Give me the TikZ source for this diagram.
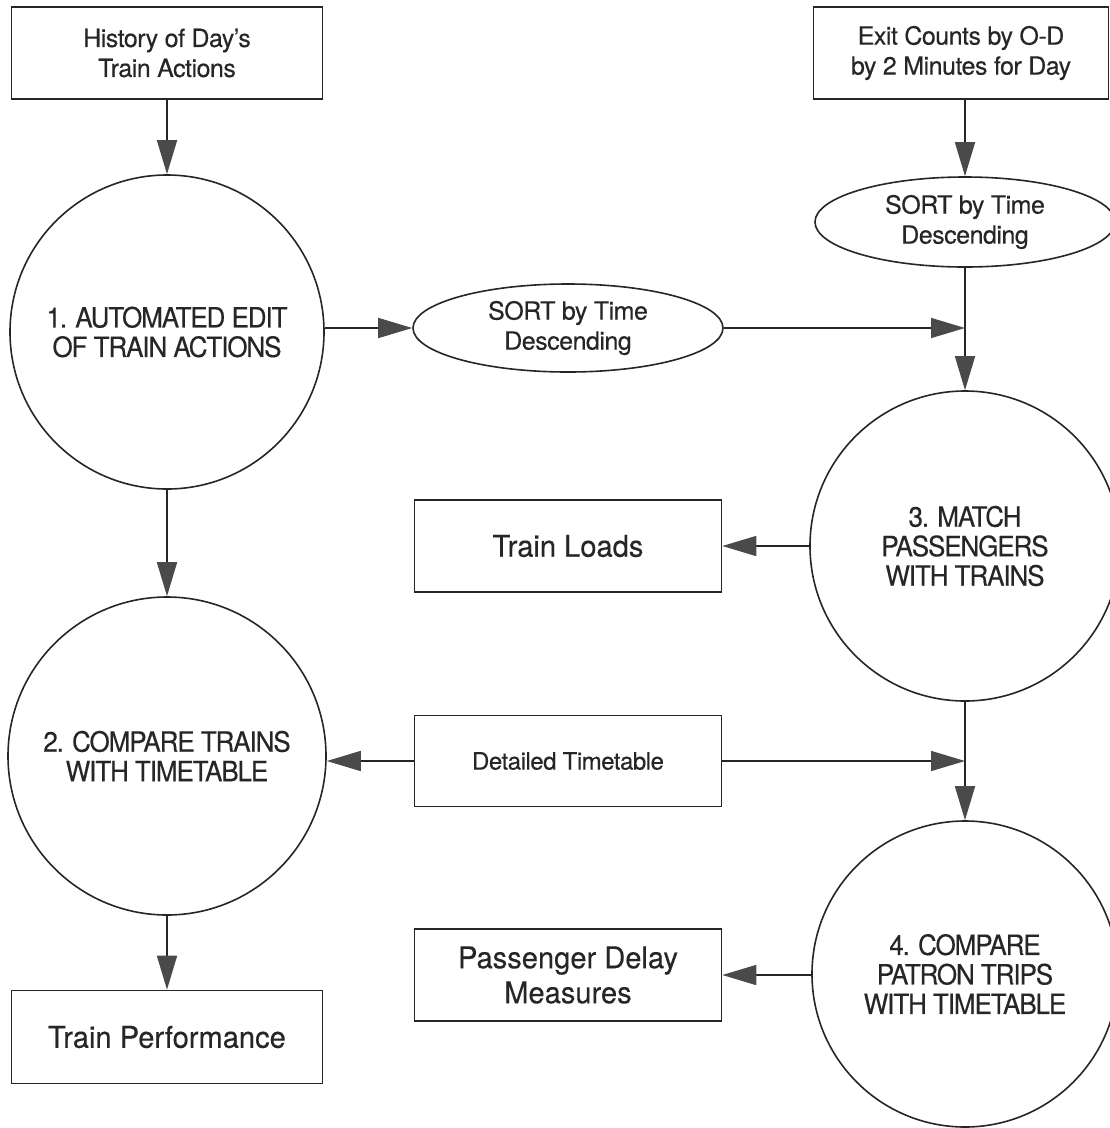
\documentclass[tikz,border=0pt]{standalone}
\usepackage{fontspec}
\setmainfont{TeX Gyre Heros}
\newfontfamily\circfont[FakeStretch=0.93,LetterSpace=-4,FakeBold=0.3]{TeX Gyre Heros}
\newfontfamily\boxfont[LetterSpace=-2,FakeBold=0.3]{TeX Gyre Heros}
\newfontfamily\bigboxfont[FakeStretch=0.97,FakeBold=0.3]{TeX Gyre Heros}
\usetikzlibrary{arrows.meta,shapes.geometric}
\definecolor{ink}{HTML}{262626}
\definecolor{tip}{HTML}{4A4A4A}
\begin{document}
\begin{tikzpicture}[x=1pt,y=-1pt,
  every node/.style={align=center,text=ink},
  line/.style={draw=ink,line width=1.6pt},
  boxnode/.style={line,rectangle,inner sep=0pt},
  circnode/.style={line,circle,inner sep=0pt},
  ovalnode/.style={line,ellipse,inner sep=0pt},
  flow/.style={line,-{Triangle[length=34pt,width=20pt,fill=tip,color=tip]}},
  circtext/.style={font=\circfont\fontsize{28}{29.5}\selectfont},
  smallfont/.style={font=\boxfont\fontsize{25}{30}\selectfont},
  bigfont/.style={font=\bigboxfont\fontsize{30}{35}\selectfont},
  tlfont/.style={font=\boxfont\fontsize{24}{28}\selectfont}
]
\useasboundingbox[fill=white] (0,0) rectangle (1110,1128);

% boxes
\node[boxnode,smallfont,minimum width=311pt,minimum height=92pt] (hist) at (167,53) {History of Day’s\\Train Actions};
\node[boxnode,smallfont,minimum width=295pt,minimum height=92pt] (exit) at (961,53) {Exit Counts by O-D\\by 2 Minutes for Day};
\node[boxnode,bigfont,minimum width=307pt,minimum height=92pt] (loads) at (568,546) {Train Loads};
\node[boxnode,tlfont,minimum width=307pt,minimum height=91pt] (tt) at (568,761) {Detailed Timetable};
\node[boxnode,bigfont,minimum width=307pt,minimum height=92pt] (pdm) at (568,975) {Passenger Delay\\Measures};
\node[boxnode,bigfont,minimum width=311pt,minimum height=93pt] (perf) at (167,1037) {Train Performance};

% ellipses
\node[ovalnode,smallfont,minimum width=300pt,minimum height=90pt] (sortR) at (965,222) {SORT by Time\\Descending};
\node[ovalnode,smallfont,minimum width=310pt,minimum height=88pt] (sortM) at (568,328) {SORT by Time\\Descending};

% circles
\node[circnode,circtext,minimum size=314pt] (c1) at (167,332) {1. AUTOMATED EDIT\\OF TRAIN ACTIONS};
\node[circnode,circtext,minimum size=318pt] (c2) at (167,756) {2. COMPARE TRAINS\\WITH TIMETABLE};
\node[circnode,circtext,minimum size=310pt] (c3) at (965,546) {3. MATCH\\PASSENGERS\\WITH TRAINS};
\node[circnode,circtext,minimum size=306pt] (c4) at (965,974) {4. COMPARE\\PATRON TRIPS\\WITH TIMETABLE};

% connectors
\draw[flow] (hist.south) -- (c1.north);
\draw[flow] (exit.south -| sortR.north) -- (sortR.north);
\draw[flow] (sortR.south) -- (c3.north);
\draw[flow] (sortM.west -| c1.east) -- (sortM.west);
\draw[flow] (sortM.east) -- (sortM.east -| c3.north);
\draw[flow] (c3.west) -- (loads.east);
\draw[flow] (c1.south) -- (c2.north);
\draw[flow] (tt.west) -- (tt.west -| c2.east);
\draw[flow] (tt.east) -- (tt.east -| c3.south);
\draw[flow] (c3.south) -- (c4.north);
\draw[flow] (c4.west |- pdm.east) -- (pdm.east);
\draw[flow] (c2.south) -- (perf.north);
\end{tikzpicture}
\end{document}
